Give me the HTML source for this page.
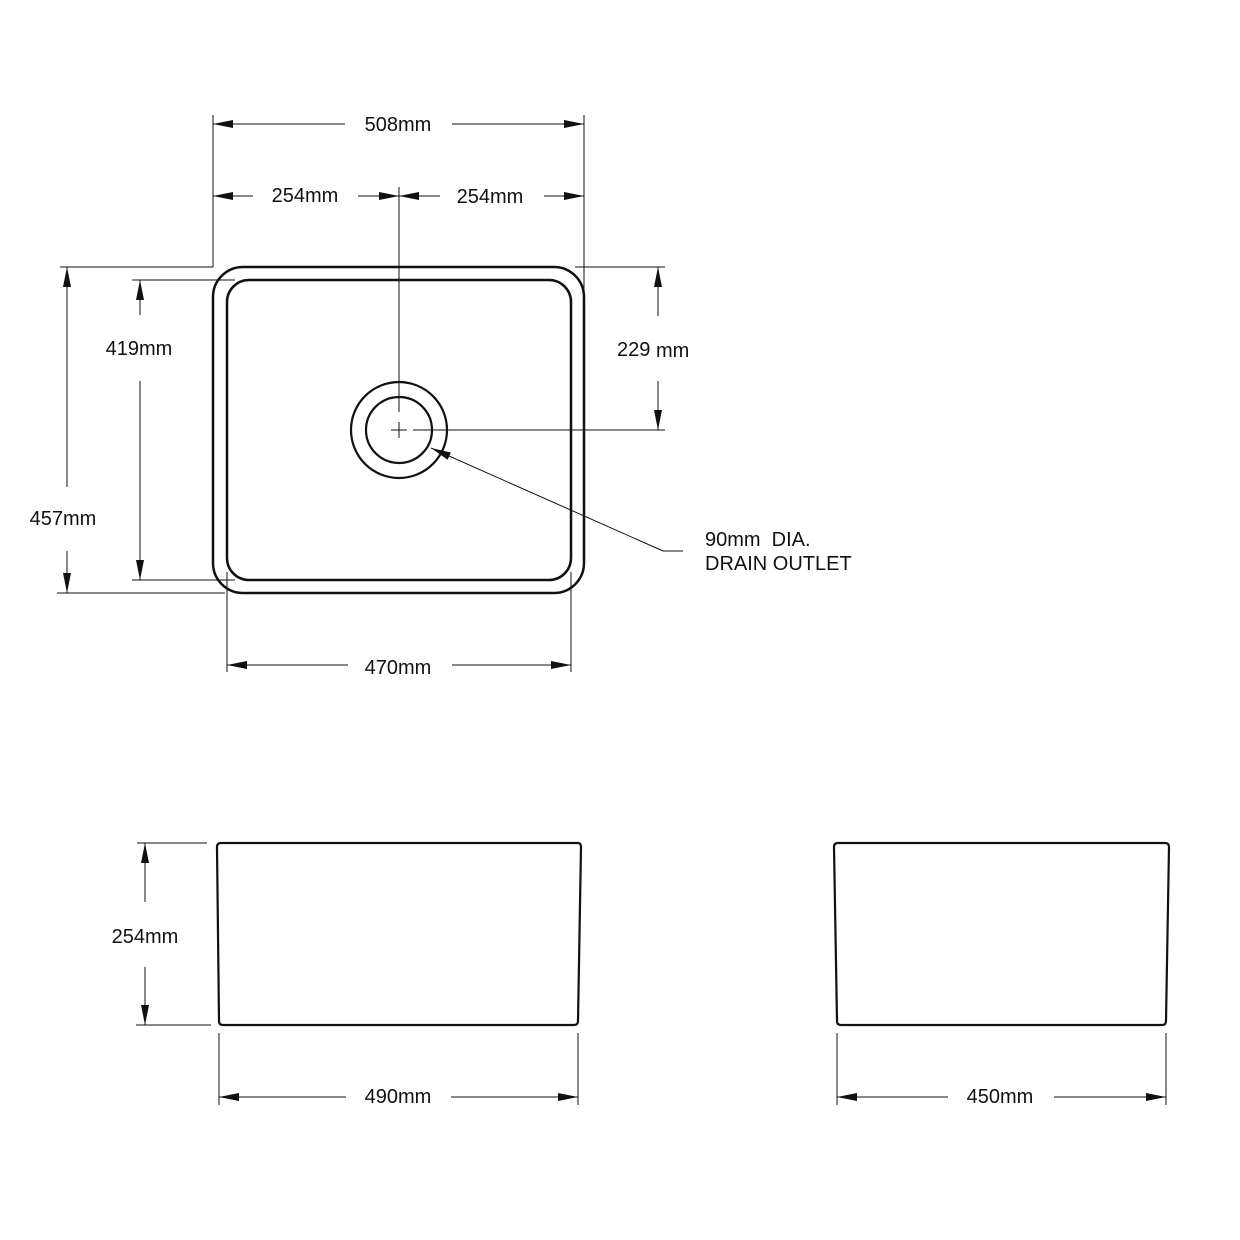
<!DOCTYPE html>
<html><head><meta charset="utf-8"><style>
html,body{margin:0;padding:0;background:#fff;}
svg{display:block;}
text{font-family:"Liberation Sans",Arial,sans-serif;font-size:20px;fill:#111;}
</style></head><body>
<svg width="1240" height="1240" viewBox="0 0 1240 1240" xmlns="http://www.w3.org/2000/svg">
<defs>
<marker id="a" viewBox="0 0 20 8" refX="20" refY="4" markerWidth="20" markerHeight="8" markerUnits="userSpaceOnUse" orient="auto-start-reverse">
<path d="M0,0 L20,4 L0,8 Z" fill="#111"/></marker>
</defs>
<g fill="none" stroke="#111">
<rect x="213" y="267" width="371" height="326" rx="30" stroke-width="2.5"/>
<rect x="227" y="280" width="344" height="300" rx="22" stroke-width="2.5"/>
<circle cx="399" cy="430" r="48" stroke-width="2.2"/>
<circle cx="399" cy="430" r="33" stroke-width="2.2"/>
<g stroke-width="1">
<line x1="399" y1="187" x2="399" y2="412"/>
<line x1="399" y1="422" x2="399" y2="438"/>
<line x1="391" y1="430" x2="407" y2="430"/>
<line x1="413" y1="430" x2="665" y2="430"/>
<line x1="213" y1="115" x2="213" y2="267"/>
<line x1="584" y1="115" x2="584" y2="290"/>
<line x1="213" y1="124" x2="345" y2="124" marker-start="url(#a)"/>
<line x1="452" y1="124" x2="584" y2="124" marker-end="url(#a)"/>
<line x1="213" y1="196" x2="253" y2="196" marker-start="url(#a)"/>
<line x1="358" y1="196" x2="399" y2="196" marker-end="url(#a)"/>
<line x1="399" y1="196" x2="440" y2="196" marker-start="url(#a)"/>
<line x1="544" y1="196" x2="584" y2="196" marker-end="url(#a)"/>
<line x1="575" y1="267" x2="665" y2="267"/>
<line x1="658" y1="267" x2="658" y2="316" marker-start="url(#a)"/>
<line x1="658" y1="381" x2="658" y2="430" marker-end="url(#a)"/>
<line x1="132" y1="280" x2="235" y2="280"/>
<line x1="132" y1="580" x2="235" y2="580"/>
<line x1="140" y1="280" x2="140" y2="315" marker-start="url(#a)"/>
<line x1="140" y1="381" x2="140" y2="580" marker-end="url(#a)"/>
<line x1="60" y1="267" x2="213" y2="267"/>
<line x1="57" y1="593" x2="225" y2="593"/>
<line x1="67" y1="267" x2="67" y2="487" marker-start="url(#a)"/>
<line x1="67" y1="551" x2="67" y2="593" marker-end="url(#a)"/>
<line x1="227" y1="572" x2="227" y2="672"/>
<line x1="571" y1="572" x2="571" y2="672"/>
<line x1="227" y1="665" x2="348" y2="665" marker-start="url(#a)"/>
<line x1="452" y1="665" x2="571" y2="665" marker-end="url(#a)"/>
<polyline points="663,551 683,551" />
<line x1="663" y1="551" x2="431" y2="448" marker-end="url(#a)"/>
</g>
<path d="M221,843 L578,843 Q581,843 581,847 L578,1021 Q578,1025 574,1025 L223,1025 Q219,1025 219,1021 L217,847 Q217,843 221,843 Z" stroke-width="2.2"/>
<path d="M838,843 L1165,843 Q1169,843 1169,847 L1166,1021 Q1166,1025 1162,1025 L841,1025 Q837,1025 837,1021 L834,847 Q834,843 838,843 Z" stroke-width="2.2"/>
<g stroke-width="1">
<line x1="137" y1="843" x2="207" y2="843"/>
<line x1="136" y1="1025" x2="211" y2="1025"/>
<line x1="145" y1="843" x2="145" y2="902" marker-start="url(#a)"/>
<line x1="145" y1="967" x2="145" y2="1025" marker-end="url(#a)"/>
<line x1="219" y1="1033" x2="219" y2="1105"/>
<line x1="578" y1="1033" x2="578" y2="1105"/>
<line x1="219" y1="1097" x2="346" y2="1097" marker-start="url(#a)"/>
<line x1="451" y1="1097" x2="578" y2="1097" marker-end="url(#a)"/>
<line x1="837" y1="1033" x2="837" y2="1105"/>
<line x1="1166" y1="1033" x2="1166" y2="1105"/>
<line x1="837" y1="1097" x2="948" y2="1097" marker-start="url(#a)"/>
<line x1="1054" y1="1097" x2="1166" y2="1097" marker-end="url(#a)"/>
</g>
</g>
<text x="398" y="131" text-anchor="middle">508mm</text>
<text x="305" y="202" text-anchor="middle">254mm</text>
<text x="490" y="203" text-anchor="middle">254mm</text>
<text x="617" y="356">229</text>
<text x="656" y="357">mm</text>
<text x="139" y="355" text-anchor="middle">419mm</text>
<text x="63" y="525" text-anchor="middle">457mm</text>
<text x="398" y="674" text-anchor="middle">470mm</text>
<text x="705" y="546">90mm&#160;&#160;DIA.</text>
<text x="705" y="570">DRAIN OUTLET</text>
<text x="145" y="943" text-anchor="middle">254mm</text>
<text x="398" y="1103" text-anchor="middle">490mm</text>
<text x="1000" y="1103" text-anchor="middle">450mm</text>
</svg>
</body></html>
